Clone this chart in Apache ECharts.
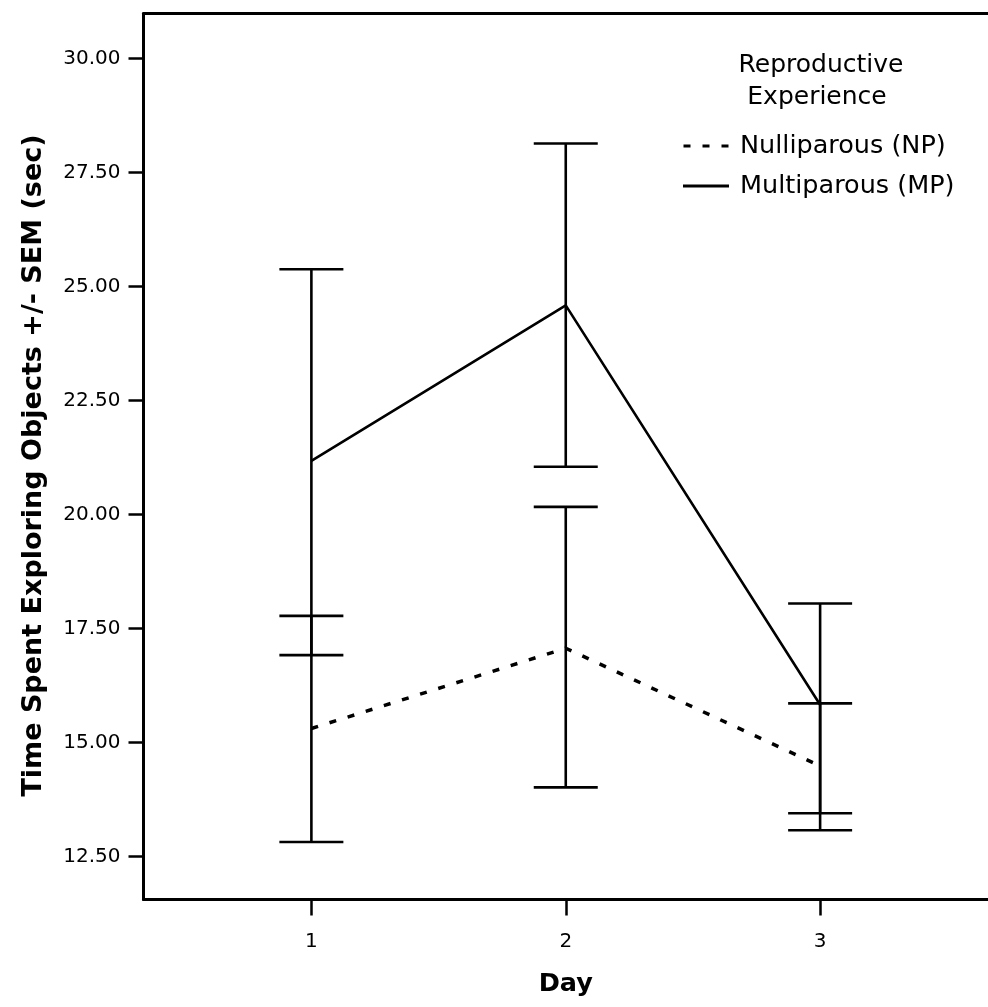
<!DOCTYPE html>
<html>
<head>
<meta charset="utf-8">
<script src="https://cdn.jsdelivr.net/npm/echarts@6/dist/echarts.min.js"></script>
<style>
html,body{margin:0;padding:0;background:#fff;}
#chart{width:988px;height:1007px;}
</style>
</head>
<body>
<div id="chart"></div>
<script>
// ---- data ----
const days = [1, 2, 3];
const dayTicks = [1, 2, 3];
const yTicks = [12.5, 15, 17.5, 20, 22.5, 25, 27.5, 30];

const npMean = [15.31, 17.07, 14.49];
const npLow  = [12.82, 14.02, 13.08];
const npHigh = [17.78, 20.17, 15.86];

const mpMean = [21.18, 24.59, 15.83];
const mpLow  = [16.92, 21.05, 13.45];
const mpHigh = [25.38, 28.14, 18.05];

const legendTitle = ['Reproductive', 'Experience'];
const npName = 'Nulliparous (NP)';
const mpName = 'Multiparous (MP)';

// ---- chart ----
const FONT = 'DejaVu Sans';
const chart = echarts.init(document.getElementById('chart'), null, {renderer: 'canvas'});

function errBar(params, api) {
  const x = api.value(0), lo = api.value(1), hi = api.value(2);
  const a = api.coord([x, lo]), b = api.coord([x, hi]);
  const hw = 32;
  const st = {stroke: '#000', lineWidth: 2.6};
  return {type: 'group', children: [
    {type: 'line', shape: {x1: a[0], y1: a[1], x2: b[0], y2: b[1]}, style: st},
    {type: 'line', shape: {x1: a[0] - hw, y1: a[1], x2: a[0] + hw, y2: a[1]}, style: st},
    {type: 'line', shape: {x1: b[0] - hw, y1: b[1], x2: b[0] + hw, y2: b[1]}, style: st}
  ]};
}

const option = {
  backgroundColor: '#fff',
  animation: false,
  grid: {left: 143.5, top: 13.5, width: 854.5, height: 886, containLabel: false},
  xAxis: [{
    type: 'value', min: 0.34, max: 3.66,
    name: 'Day', nameLocation: 'middle', nameGap: 72,
    nameTextStyle: {fontFamily: FONT, fontWeight: 'bold', fontSize: 25.5, color: '#000'},
    axisLine: {show: true, lineStyle: {color: '#000', width: 3}},
    axisTick: {show: true, length: 16, inside: false, customValues: dayTicks, lineStyle: {color: '#000', width: 2.5}},
    axisLabel: {customValues: dayTicks, margin: 32, fontFamily: FONT, fontSize: 20, color: '#000', formatter: v => String(v)},
    splitLine: {show: false}
  }, {
    type: 'value', position: 'top', min: 0.34, max: 3.66,
    axisLine: {show: true, onZero: false, lineStyle: {color: '#000', width: 3}},
    axisTick: {show: false}, axisLabel: {show: false}, splitLine: {show: false}
  }],
  yAxis: {
    type: 'value', min: 11.56, max: 30.99,
    name: 'Time Spent Exploring Objects +/- SEM (sec)', nameLocation: 'middle', nameGap: 96,
    nameTextStyle: {fontFamily: FONT, fontWeight: 'bold', fontSize: 27, color: '#000', padding: [0, 18, 0, 0]},
    axisLine: {show: true, onZero: false, lineStyle: {color: '#000', width: 3}},
    axisTick: {show: true, length: 15, customValues: yTicks, lineStyle: {color: '#000', width: 2.5}},
    axisLabel: {customValues: yTicks, margin: 23, fontFamily: FONT, fontSize: 20, color: '#000',
      formatter: v => v.toFixed(2)},
    splitLine: {show: false}
  },
  legend: {
    orient: 'vertical', left: 678, top: 126,
    itemWidth: 46, itemHeight: 3, itemGap: 10,
    textStyle: {fontFamily: FONT, fontSize: 25.5, color: '#000', lineHeight: 30, padding: [0, 0, 0, 6]},
    data: [
      {name: npName, icon: 'path://M0,0h7v3h-7z M19,0h7v3h-7z M38,0h7v3h-7z', itemStyle: {color: '#000'}},
      {name: mpName, icon: 'path://M0,0h46v3h-46z', itemStyle: {color: '#000'}}
    ]
  },
  graphic: [
    {type: 'text', x: 821, y: 65, style: {text: legendTitle[0], fontFamily: FONT, fontSize: 25, fill: '#000', textAlign: 'center', textVerticalAlign: 'middle'}},
    {type: 'text', x: 817, y: 97, style: {text: legendTitle[1], fontFamily: FONT, fontSize: 25, fill: '#000', textAlign: 'center', textVerticalAlign: 'middle'}}
  ],
  series: [
    {
      name: npName, type: 'line', symbol: 'none', showSymbol: false,
      data: days.map((d, i) => [d, npMean[i]]),
      lineStyle: {color: '#000', width: 3.5, type: [7, 12]},
      itemStyle: {color: '#000'}, z: 3
    },
    {
      name: mpName, type: 'line', symbol: 'none', showSymbol: false,
      data: days.map((d, i) => [d, mpMean[i]]),
      lineStyle: {color: '#000', width: 2.6, type: 'solid'},
      itemStyle: {color: '#000'}, z: 3
    },
    {
      name: 'npErr', type: 'custom', renderItem: errBar,
      data: days.map((d, i) => [d, npLow[i], npHigh[i]]), z: 2
    },
    {
      name: 'mpErr', type: 'custom', renderItem: errBar,
      data: days.map((d, i) => [d, mpLow[i], mpHigh[i]]), z: 2
    }
  ]
};
chart.setOption(option);
</script>
</body>
</html>
